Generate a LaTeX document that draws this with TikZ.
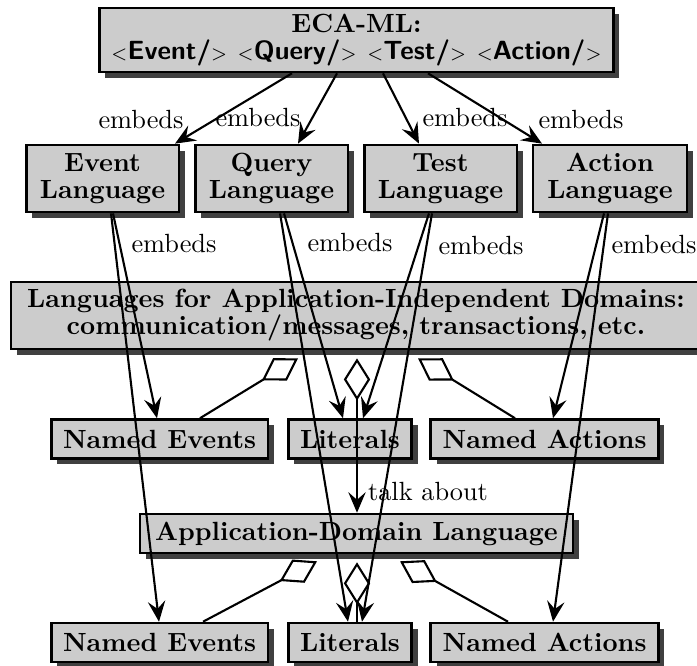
\documentclass[tikz,border=0pt]{standalone}
\usetikzlibrary{arrows.meta,shadows,calc}
\newcommand{\tagopen}{$\scriptstyle<$}
\newcommand{\tagclose}{$\scriptstyle>$}
\begin{document}
\begin{tikzpicture}[x=0.38pt,y=-0.38pt,
  box/.style={draw=black,line width=1pt,fill=black!20,
    drop shadow={shadow xshift=2.2pt,shadow yshift=-2.2pt,fill=black!75,opacity=1},
    font=\bfseries\fontsize{10pt}{10.3pt}\selectfont,align=center,
    inner xsep=4.5pt,inner ysep=0pt},
  tallbox/.style={box,minimum height=25.5pt},
  flatbox/.style={box,minimum height=14.8pt},
  conn/.style={line width=0.8pt},
  embarrow/.style={conn,-{Stealth[length=7.8pt,width=6.6pt,inset=2.9pt]}},
  aggline/.style={conn,{Diamond[open,length=16pt,width=10pt]}-},
  lbl/.style={inner sep=0pt,font=\fontsize{10pt}{12pt}\selectfont}]

\useasboundingbox (0,0) rectangle (697,665);

% ---- boxes ----
\node[tallbox,minimum width=192pt,minimum height=24.3pt] (eca) at (356.5,40)
  {ECA-ML:\\ \tagopen\textsf{Event/}\tagclose\ \tagopen\textsf{Query/}\tagclose\ \tagopen\textsf{Test/}\tagclose\ \tagopen\textsf{Action/}\tagclose};

\node[tallbox,minimum width=58pt] (evl) at (102.5,178.5) {Event\\Language};
\node[tallbox,minimum width=58pt] (qul) at (271.5,178.5) {Query\\Language};
\node[tallbox,minimum width=58pt] (tel) at (440.5,178.5) {Test\\Language};
\node[tallbox,minimum width=58.5pt] (acl) at (610,178.5) {Action\\Language};

\node[tallbox,minimum width=262.2pt] (aid) at (356,315.5)
  {Languages for Application-Independent Domains:\\ communication/messages, transactions, etc.};

\node[flatbox] (ne1) at (159.5,439) {Named Events};
\node[flatbox] (li1) at (350,439) {Literals};
\node[flatbox] (na1) at (544.5,439) {Named Actions};

\node[flatbox,minimum width=164.5pt] (adl) at (356.5,533.5) {Application-Domain Language};

\node[flatbox] (ne2) at (159.5,642.5) {Named Events};
\node[flatbox] (li2) at (350,642.5) {Literals};
\node[flatbox] (na2) at (544.5,642.5) {Named Actions};

% ---- ECA-ML embeds the four component languages ----
\draw[embarrow] ($(eca.south)+(-64.5,0)$) -- ($(evl.north)+(72.5,0)$);
\draw[embarrow] ($(eca.south)+(-19.5,0)$) -- ($(qul.north)+(26.5,0)$);
\draw[embarrow] ($(eca.south)+(26.5,0)$) -- ($(tel.north)+(-21.5,0)$);
\draw[embarrow] ($(eca.south)+(71.5,0)$) -- ($(acl.north)+(-68,0)$);

% ---- component languages embed the domain vocabularies ----
\draw[embarrow] ($(evl.south)+(10.5,0)$) -- ($(ne1.north)+(-2.5,0)$);
\draw[embarrow] ($(evl.south)+(8.5,0)$) -- ($(ne2.north)+(-0.5,0)$);
\draw[embarrow] ($(qul.south)+(12.5,0)$) -- ($(li1.north)+(-7,0)$);
\draw[embarrow] ($(qul.south)+(8.5,0)$) -- ($(li2.north)+(-2,0)$);
\draw[embarrow] ($(tel.south)+(-11.5,0)$) -- ($(li1.north)+(13,0)$);
\draw[embarrow] ($(tel.south)+(-8.5,0)$) -- ($(li2.north)+(12,0)$);
\draw[embarrow] ($(acl.south)+(-6,0)$) -- ($(na1.north)+(8.5,0)$);
\draw[embarrow] ($(acl.south)+(-2,0)$) -- ($(na2.north)+(8.5,0)$);

% ---- aggregations ----
\draw[aggline] ($(aid.south)+(-58,8)$) -- ($(ne1.north)+(40.5,0)$);
\draw[aggline] ($(aid.south)+(1,8)$) -- ($(li1.north)+(7,0)$);
\draw[aggline] ($(aid.south)+(62,8)$) -- ($(na1.north)+(-29.5,0)$);
\draw[aggline] ($(adl.south)+(-39.5,7)$) -- ($(ne2.north)+(43.5,0)$);
\draw[aggline] ($(adl.south)+(0.5,8)$) -- ($(li2.north)+(7,0)$);
\draw[aggline] ($(adl.south)+(43.5,7)$) -- ($(na2.north)+(-36.5,0)$);

% ---- literals talk about the application domain ----
\draw[embarrow] ($(li1.north)+(7,0)$) -- ($(adl.north)+(0.5,0)$);

% ---- labels ----
\node[lbl] (em1) at (141,120) {embeds};
\node[lbl] (em2) at (258,118) {embeds};
\node[lbl] (em3) at (465,118) {embeds};
\node[lbl] (em4) at (581,120) {embeds};
\node[lbl] (em5) at (174,244) {embeds};
\node[lbl] (em6) at (350,243) {embeds};
\node[lbl] (em7) at (481,246) {embeds};
\node[lbl] (em8) at (654,245) {embeds};
\node[lbl] (talk) at (428,491) {talk about};
\end{tikzpicture}
\end{document}
